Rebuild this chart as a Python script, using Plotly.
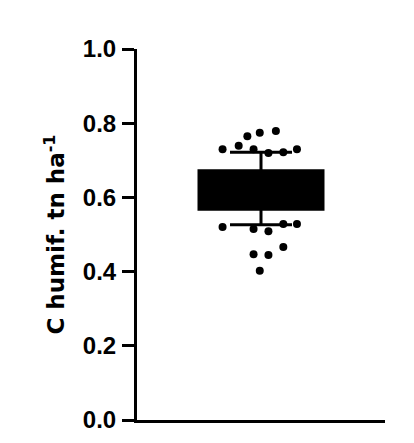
import plotly.graph_objects as go

# Box summary
q1 = [0.568]
median = [0.62]
q3 = [0.672]
lower_fence = [0.526]
upper_fence = [0.722]

# Individual points beyond whiskers (x = horizontal scatter offset, y = value)
point_offsets = [-0.31, -0.18, -0.11, -0.06, -0.01, 0.06, 0.12, 0.18, 0.29,
                 -0.31, -0.06, 0.06, 0.18, 0.29, -0.06, 0.06, 0.18, -0.01]
point_values = [0.730, 0.739, 0.765, 0.730, 0.774, 0.720, 0.779, 0.722, 0.730,
                0.520, 0.515, 0.509, 0.528, 0.528, 0.447, 0.445, 0.466, 0.402]

y_ticks = [0.0, 0.2, 0.4, 0.6, 0.8, 1.0]
y_tick_labels = ["0.0", "0.2", "0.4", "0.6", "0.8", "1.0"]

font = "Liberation Sans"
title_font = "DejaVu Sans"

fig = go.Figure()
fig.add_trace(go.Box(
    x=[0], q1=q1, median=median, q3=q3,
    lowerfence=lower_fence, upperfence=upper_fence,
    width=1, whiskerwidth=0.5,
    fillcolor="black", line=dict(color="black", width=3),
    boxpoints=False, showlegend=False, hoverinfo="skip",
))
fig.add_trace(go.Scatter(
    x=[0 + o for o in point_offsets], y=point_values, mode="markers",
    marker=dict(color="black", size=8), showlegend=False,
))

fig.update_layout(
    width=414, height=443,
    margin=dict(l=137, r=29, t=49, b=23),
    paper_bgcolor="white", plot_bgcolor="white",
    font=dict(family=font, color="black"),
    xaxis=dict(range=[-1, 1], showticklabels=False, ticks="", showgrid=False, automargin=False,
               zeroline=False, showline=True, linecolor="black", linewidth=3),
    yaxis=dict(range=[0, 1], tickvals=y_ticks, ticktext=y_tick_labels,
               ticks="outside", ticklen=12, tickwidth=3, tickcolor="black", automargin=False,
               ticklabelstandoff=1,
               showgrid=False, zeroline=False, showline=True, linecolor="black", linewidth=3,
               tickfont=dict(size=24, family=font, weight="bold"),
               title=dict(text="C humif. tn ha<sup>-1</sup>",
                          font=dict(size=23, family=title_font, weight="bold"),
                          standoff=12)),
)

fig.write_html("out.html", config={"displayModeBar": False},
               post_script="document.body.style.margin='0';")
